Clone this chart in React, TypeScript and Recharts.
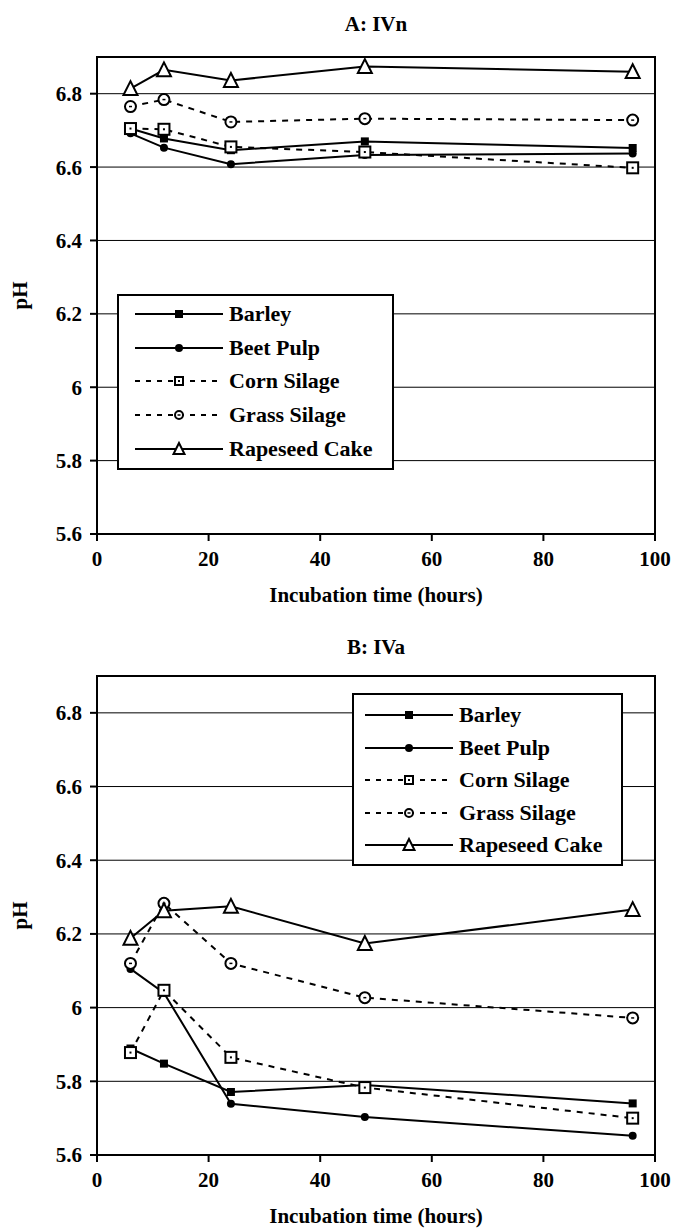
import React from 'react';
import { LineChart, Line, XAxis, YAxis, CartesianGrid, ReferenceArea, Legend, Label } from 'recharts';

// sampling times (hours)
const hours = [6, 12, 24, 48, 96];

// Panel A: IVn
const barleyA = [6.705, 6.678, 6.646, 6.67, 6.652];
const beetPulpA = [6.692, 6.653, 6.608, 6.633, 6.637];
const cornSilageA = [6.705, 6.703, 6.655, 6.641, 6.598];
const grassSilageA = [6.765, 6.784, 6.723, 6.732, 6.728];
const rapeseedA = [6.814, 6.865, 6.836, 6.874, 6.86];

// Panel B: IVa
const barleyB = [5.889, 5.848, 5.771, 5.79, 5.74];
const beetPulpB = [6.105, 6.04, 5.739, 5.703, 5.652];
const cornSilageB = [5.878, 6.047, 5.865, 5.783, 5.7];
const grassSilageB = [6.12, 6.283, 6.12, 6.027, 5.972];
const rapeseedB = [6.188, 6.263, 6.275, 6.174, 6.266];

const xTicks = [0, 20, 40, 60, 80, 100];
const yTicks = [5.6, 5.8, 6, 6.2, 6.4, 6.6, 6.8];
const seriesNames = ['Barley', 'Beet Pulp', 'Corn Silage', 'Grass Silage', 'Rapeseed Cake'];
const seriesKeys = ['barley', 'beet', 'corn', 'grass', 'rape'];
const dashed = [false, false, true, true, false];

const FONT = "'Liberation Serif', 'Times New Roman', serif";

const buildRows = (b: number[], bp: number[], c: number[], g: number[], r: number[]) =>
  hours.map((h, i) => ({ h, barley: b[i], beet: bp[i], corn: c[i], grass: g[i], rape: r[i] }));

const dataA = buildRows(barleyA, beetPulpA, cornSilageA, grassSilageA, rapeseedA);
const dataB = buildRows(barleyB, beetPulpB, cornSilageB, grassSilageB, rapeseedB);

// marker shapes, s = overall size
const Marker = ({ kind, cx, cy, s }: { kind: string; cx: number; cy: number; s: number }) => {
  if (kind === 'barley') {
    return <rect x={cx - s / 2} y={cy - s / 2} width={s} height={s} fill="#000" />;
  }
  if (kind === 'beet') {
    return <circle cx={cx} cy={cy} r={s / 2} fill="#000" />;
  }
  if (kind === 'corn') {
    return (
      <g>
        <rect x={cx - s / 2} y={cy - s / 2} width={s} height={s} fill="#fff" stroke="#000" strokeWidth={2} />
        <rect x={cx - 1} y={cy - 1} width={2} height={2} fill="#000" />
      </g>
    );
  }
  if (kind === 'grass') {
    return (
      <g>
        <circle cx={cx} cy={cy} r={s / 2} fill="#fff" stroke="#000" strokeWidth={2} />
        <line x1={cx - 1.5} y1={cy} x2={cx + 1.5} y2={cy} stroke="#000" strokeWidth={1.5} />
      </g>
    );
  }
  const h = s * 0.92;
  return (
    <polygon
      points={`${cx},${cy - h / 2 - 1} ${cx - s / 2},${cy + h / 2} ${cx + s / 2},${cy + h / 2}`}
      fill="#fff"
      stroke="#000"
      strokeWidth={2}
      strokeLinejoin="miter"
    />
  );
};

const dotFor = (kind: string) => {
  const size = kind === 'barley' || kind === 'beet' ? 8 : kind === 'rape' ? 14 : 11;
  return (props: any) => (
    <Marker key={`${kind}-${props.index}`} kind={kind} cx={props.cx} cy={props.cy} s={size} />
  );
};

const legendContent = (rowH: number, padTop: number, padLeft: number, w: number, h: number) => () => (
  <div
    style={{
      width: w,
      height: h,
      boxSizing: 'border-box',
      border: '2px solid #000',
      background: '#fff',
      paddingTop: padTop,
      paddingLeft: padLeft,
      fontFamily: FONT,
      fontWeight: 'bold',
      fontSize: 22,
      color: '#000',
    }}
  >
    {seriesNames.map((name, i) => {
      const kind = seriesKeys[i];
      const ms = kind === 'barley' || kind === 'beet' ? 8 : kind === 'rape' ? 11 : 8;
      return (
        <div key={name} style={{ height: rowH, display: 'flex', alignItems: 'center' }}>
          <svg width={94} height={20} style={{ flex: 'none' }}>
            <line
              x1={0}
              y1={10}
              x2={88}
              y2={10}
              stroke="#000"
              strokeWidth={2}
              strokeDasharray={dashed[i] ? '5 6' : undefined}
            />
            <Marker kind={kind} cx={44} cy={10} s={ms} />
          </svg>
          <span style={{ lineHeight: 1, whiteSpace: 'nowrap' }}>{name}</span>
        </div>
      );
    })}
  </div>
);

const axisText = { fill: '#000', fontSize: 21, fontWeight: 'bold', fontFamily: FONT };

interface PanelProps {
  data: typeof dataA;
  height: number;
  top: number;
  bottom: number;
  legend: { left: number; top: number; w: number; h: number; rowH: number; padTop: number; padLeft: number };
}

const Panel: React.FC<PanelProps> = ({ data, height, top, bottom, legend }) => (
  <LineChart width={674} height={height} data={data} margin={{ top, right: 19, bottom, left: 37 }}>
    <CartesianGrid vertical={false} stroke="#000" strokeWidth={1} />
    <XAxis
      type="number"
      dataKey="h"
      domain={[0, 100]}
      ticks={xTicks}
      axisLine={false}
      tickLine={{ stroke: '#000', strokeWidth: 2 }}
      tickSize={7}
      tickMargin={10}
      tick={axisText}
      height={70}
      interval={0}
    >
      <Label
        content={(p: any) => (
          <text
            x={p.viewBox.x + p.viewBox.width / 2}
            y={p.viewBox.y + 68}
            textAnchor="middle"
            style={axisText}
          >
            Incubation time (hours)
          </text>
        )}
      />
    </XAxis>
    <YAxis
      type="number"
      domain={[5.6, 6.9]}
      ticks={yTicks}
      axisLine={false}
      tickLine={{ stroke: '#000', strokeWidth: 2 }}
      tickSize={7}
      tickMargin={8}
      tick={axisText}
      width={60}
      interval={0}
      allowDataOverflow
    >
      <Label
        content={(p: any) => {
          const cy = p.viewBox.y + p.viewBox.height / 2;
          return (
            <text x={27} y={cy} textAnchor="middle" transform={`rotate(-90 27 ${cy})`} style={axisText}>
              pH
            </text>
          );
        }}
      />
    </YAxis>
    <ReferenceArea x1={0} x2={100} y1={5.6} y2={6.9} fill="none" stroke="#000" strokeWidth={2} fillOpacity={0} />
    {seriesKeys.map((k, i) => (
      <Line
        key={k}
        type="linear"
        dataKey={k}
        stroke="#000"
        strokeWidth={2}
        strokeDasharray={dashed[i] ? '6 6' : undefined}
        dot={dotFor(k)}
        activeDot={false}
        isAnimationActive={false}
      />
    ))}
    <Legend
      layout="horizontal"
      verticalAlign="middle"
      align="center"
      content={legendContent(legend.rowH, legend.padTop, legend.padLeft, legend.w, legend.h)}
      wrapperStyle={{ left: legend.left, top: legend.top, width: legend.w, height: legend.h }}
    />
  </LineChart>
);

const titleStyle = (top: number): React.CSSProperties => ({
  position: 'absolute',
  left: 97,
  width: 558,
  top,
  textAlign: 'center',
  fontFamily: FONT,
  fontWeight: 'bold',
  fontSize: 21,
  lineHeight: '24px',
  color: '#000',
});

export default function App() {
  return (
    <div style={{ position: 'absolute', left: 0, top: 0, width: 674, height: 1228, background: '#fff' }}>
      <div style={{ position: 'absolute', left: 0, top: 0 }}>
        <Panel
          data={dataA}
          height={620}
          top={57}
          bottom={16}
          legend={{ left: 117, top: 294, w: 277, h: 176, rowH: 33.7, padTop: 1, padLeft: 16 }}
        />
      </div>
      <div style={titleStyle(12)}>A: IVn</div>
      <div style={{ position: 'absolute', left: 0, top: 620 }}>
        <Panel
          data={dataB}
          height={608}
          top={56}
          bottom={3}
          legend={{ left: 352, top: 73, w: 271, h: 173, rowH: 32.5, padTop: 4, padLeft: 11 }}
        />
      </div>
      <div style={titleStyle(635)}>B: IVa</div>
    </div>
  );
}
